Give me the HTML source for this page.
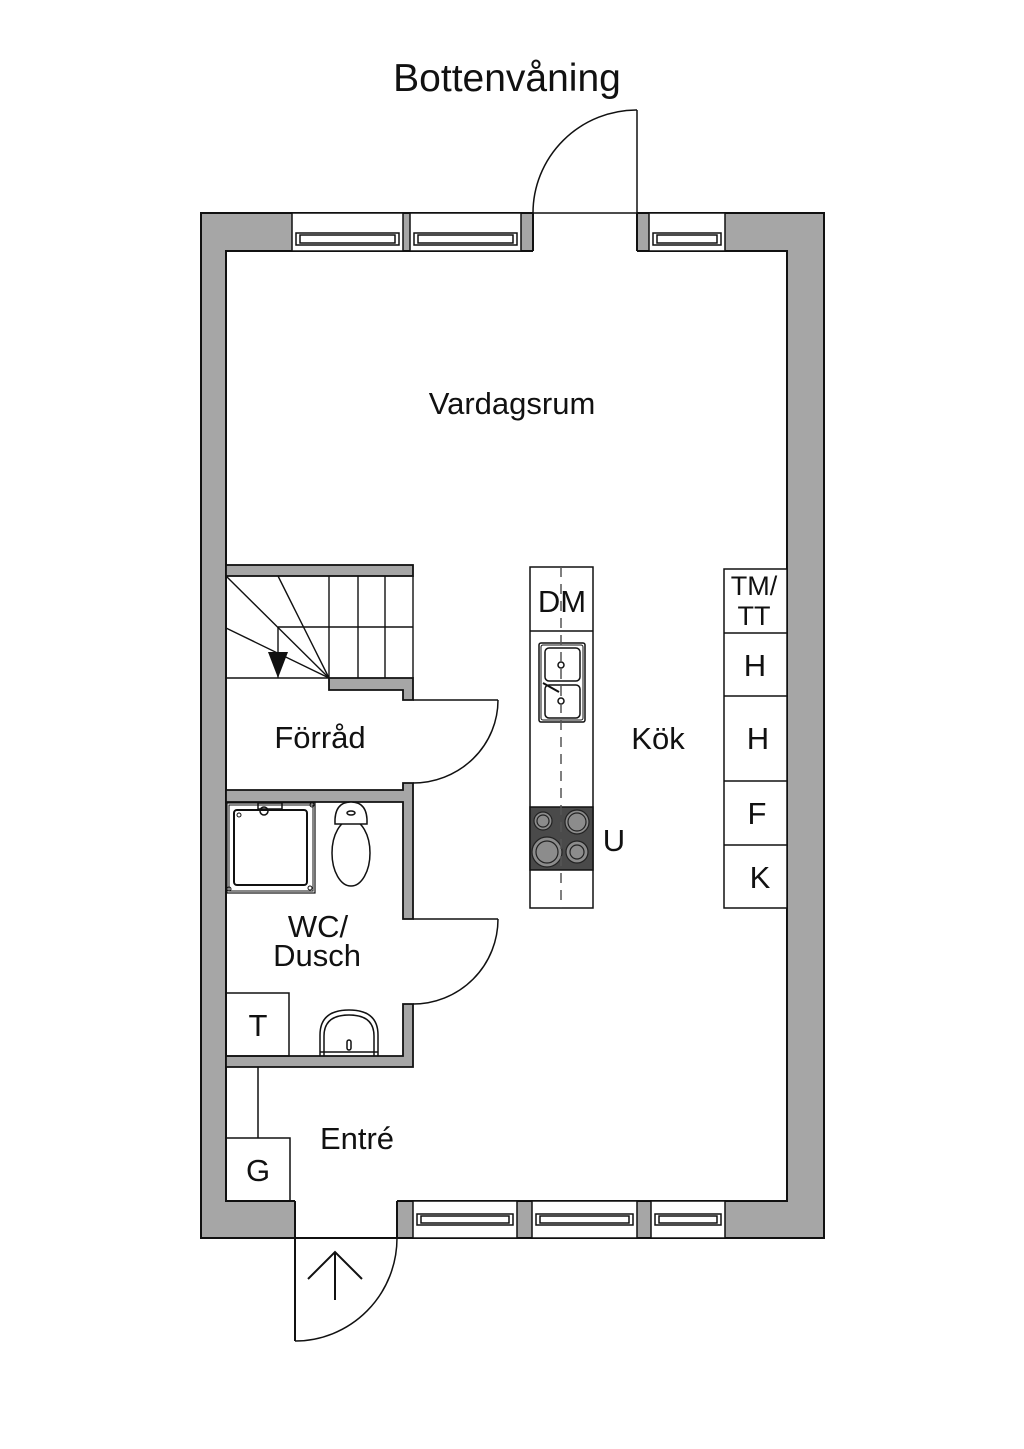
<!DOCTYPE html>
<html><head><meta charset="utf-8"><style>
html,body{margin:0;padding:0;background:#fff;}
svg{display:block;}
text{font-family:"Liberation Sans",sans-serif;fill:#111;}
</style></head><body>
<svg width="1024" height="1449" viewBox="0 0 1024 1449" xmlns="http://www.w3.org/2000/svg">
<rect width="1024" height="1449" fill="#fff"/>
<text x="507" y="91" font-size="39" text-anchor="middle">Bottenvåning</text>

<rect x="201" y="213" width="623" height="1025" fill="#a6a6a6" stroke="#111" stroke-width="2"/>
<rect x="226" y="251" width="561" height="950" fill="#fff" stroke="#111" stroke-width="2"/>

<g stroke="#111" stroke-width="1.5" fill="#fff">
<rect x="292" y="213" width="111" height="38"/>
<rect x="410" y="213" width="111" height="38"/>
<rect x="649" y="213" width="76" height="38"/>
<rect x="296" y="233" width="103" height="12"/>
<rect x="300" y="235" width="95" height="8"/>
<rect x="414" y="233" width="103" height="12"/>
<rect x="418" y="235" width="95" height="8"/>
<rect x="653" y="233" width="68" height="12"/>
<rect x="657" y="235" width="60" height="8"/>
</g>
<rect x="533" y="212" width="104" height="40" fill="#fff"/>
<g stroke="#111" stroke-width="1.5" fill="none">
<line x1="533" y1="213" x2="533" y2="251" stroke-width="2"/>
<line x1="637" y1="213" x2="637" y2="251" stroke-width="2"/>
<line x1="533" y1="213" x2="637" y2="213"/>
<line x1="637" y1="110" x2="637" y2="213"/>
<path d="M533 213 A104 103 0 0 1 637 110"/>
</g>

<g stroke="#111" stroke-width="1.5" fill="#fff">
<rect x="413" y="1201" width="104" height="37"/>
<rect x="532" y="1201" width="105" height="37"/>
<rect x="651" y="1201" width="74" height="37"/>
<rect x="417" y="1214" width="96" height="11"/>
<rect x="421" y="1216" width="88" height="7"/>
<rect x="536" y="1214" width="97" height="11"/>
<rect x="540" y="1216" width="89" height="7"/>
<rect x="655" y="1214" width="66" height="11"/>
<rect x="659" y="1216" width="58" height="7"/>
</g>
<rect x="295" y="1200" width="102" height="37" fill="#fff"/>
<g stroke="#111" stroke-width="1.5" fill="none">
<line x1="295" y1="1201" x2="295" y2="1341" stroke-width="2"/>
<line x1="397" y1="1201" x2="397" y2="1238" stroke-width="2"/>
<line x1="295" y1="1238" x2="397" y2="1238"/>
<path d="M397 1238 A102 103 0 0 1 295 1341"/>
<line x1="335" y1="1300" x2="335" y2="1252" stroke-width="2"/>
<polyline points="308,1279 335,1252 362,1279" stroke-width="2"/>
<line x1="226" y1="1201" x2="295" y2="1201" stroke-width="2"/>
</g>

<g fill="#a6a6a6" stroke="#111" stroke-width="1.8">
<rect x="226" y="565" width="187" height="11"/>
<polygon points="329,678 413,678 413,700 403,700 403,690 329,690"/>
<polygon points="226,790 403,790 403,783 413,783 413,919 403,919 403,802 226,802"/>
<polygon points="403,1004 413,1004 413,1067 226,1067 226,1056 403,1056"/>
</g>

<g stroke="#111" stroke-width="1.4" fill="none">
<line x1="413" y1="576" x2="413" y2="678"/>
<line x1="329" y1="576" x2="329" y2="678"/>
<line x1="358" y1="576" x2="358" y2="678"/>
<line x1="385" y1="576" x2="385" y2="678"/>
<line x1="278" y1="627" x2="413" y2="627"/>
<line x1="278" y1="627" x2="278" y2="678"/>
<line x1="226" y1="678" x2="329" y2="678"/>
<line x1="329" y1="678" x2="226" y2="576"/>
<line x1="329" y1="678" x2="278" y2="576"/>
<line x1="329" y1="678" x2="226" y2="628"/>
</g>
<polygon points="268,652 288,652 278,678" fill="#111"/>

<g stroke="#111" stroke-width="1.5" fill="none">
<line x1="413" y1="700" x2="498" y2="700"/>
<path d="M498 700 A85 83 0 0 1 413 783"/>
<line x1="413" y1="919" x2="498" y2="919"/>
<path d="M498 919 A85 85 0 0 1 413 1004"/>
</g>

<g stroke="#111" fill="none">
<rect x="227" y="803" width="88" height="90" stroke-width="1.2"/>
<rect x="229" y="805" width="84" height="86" stroke-width="1"/>
<rect x="234" y="810" width="73" height="75" rx="3" stroke-width="2"/>
<circle cx="239" cy="815" r="2" stroke-width="1"/>
<circle cx="312" cy="805" r="2" stroke-width="1"/>
<circle cx="229" cy="889" r="2" stroke-width="1"/>
<circle cx="310" cy="888" r="2" stroke-width="1"/>
<rect x="258" y="803" width="24" height="6" stroke-width="1.5"/>
<circle cx="264" cy="811" r="4" stroke-width="1.5"/>
</g>
<g stroke="#111" stroke-width="1.5" fill="#fff">
<ellipse cx="351" cy="853" rx="19" ry="33"/>
<path d="M335 824 Q334 802 351 802 Q368 802 367 824 Z"/>
<ellipse cx="351" cy="813" rx="4" ry="2"/>
</g>

<g stroke="#111" stroke-width="1.5" fill="none">
<rect x="226" y="993" width="63" height="63"/>
<path d="M320 1056 L320 1035 Q320 1010 349 1010 Q378 1010 378 1035 L378 1056"/>
<path d="M324 1056 L324 1036 Q324 1015 349 1015 Q374 1015 374 1036 L374 1056"/>
<line x1="320" y1="1052" x2="378" y2="1052"/>
<rect x="347" y="1040" width="4" height="10" rx="2"/>
</g>

<g stroke="#111" stroke-width="1.5" fill="none">
<line x1="258" y1="1067" x2="258" y2="1138"/>
<rect x="226" y="1138" width="64" height="63"/>
</g>

<g stroke="#111" stroke-width="1.5" fill="#fff">
<rect x="530" y="567" width="63" height="341"/>
<line x1="530" y1="631" x2="593" y2="631"/>
<rect x="539" y="643" width="46" height="79" rx="2"/>
<rect x="541" y="645" width="42" height="75" rx="2" stroke-width="1"/>
<rect x="545" y="648" width="35" height="33" rx="4"/>
<rect x="545" y="685" width="35" height="33" rx="4"/>
<circle cx="561" cy="665" r="3"/>
<circle cx="561" cy="701" r="3"/>
<line x1="543" y1="683" x2="559" y2="692" stroke-width="2"/>
</g>
<rect x="530" y="807" width="63" height="63" fill="#4a4a4a" stroke="#111" stroke-width="1.5"/>
<g stroke="#222" stroke-width="1.2" fill="#8c8c8c">
<circle cx="543" cy="821" r="9"/><circle cx="543" cy="821" r="6"/>
<circle cx="577" cy="822" r="12"/><circle cx="577" cy="822" r="9"/>
<circle cx="547" cy="852" r="15"/><circle cx="547" cy="852" r="11"/>
<circle cx="577" cy="852" r="11"/><circle cx="577" cy="852" r="7"/>
</g>
<line x1="561" y1="567" x2="561" y2="908" stroke="#555" stroke-width="1.5" stroke-dasharray="10,7"/>

<g stroke="#111" stroke-width="1.5" fill="#fff">
<rect x="724" y="569" width="63" height="339"/>
<line x1="724" y1="633" x2="787" y2="633"/>
<line x1="724" y1="696" x2="787" y2="696"/>
<line x1="724" y1="781" x2="787" y2="781"/>
<line x1="724" y1="845" x2="787" y2="845"/>
</g>

<g font-size="31" text-anchor="middle">
<text x="512" y="414">Vardagsrum</text>
<text x="658" y="749">Kök</text>
<text x="320" y="748">Förråd</text>
<text x="318" y="937">WC/</text>
<text x="317" y="966">Dusch</text>
<text x="258" y="1036">T</text>
<text x="258" y="1181">G</text>
<text x="357" y="1149">Entré</text>
<text x="562" y="612">DM</text>
<text x="614" y="851">U</text>
<text x="755" y="676">H</text>
<text x="758" y="749">H</text>
<text x="757" y="824">F</text>
<text x="760" y="888">K</text>
</g>
<g font-size="27" text-anchor="middle">
<text x="754" y="595">TM/</text>
<text x="754" y="625">TT</text>
</g>
</svg>
</body></html>
